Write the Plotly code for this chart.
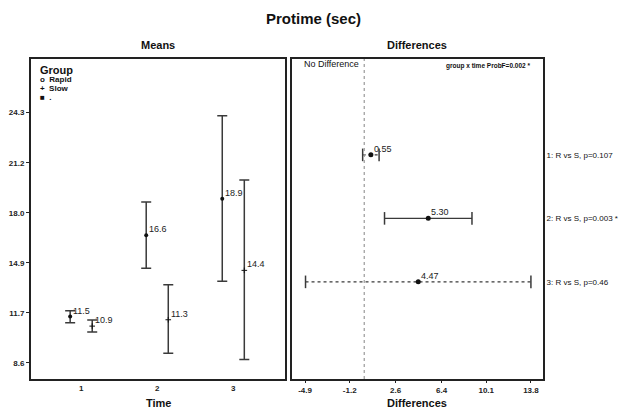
import plotly.graph_objects as go

# ---- data ----
time_points = [1, 2, 3]
rapid_mean = [11.5, 16.6, 18.9]
rapid_lo = [11.11, 14.54, 13.72]
rapid_hi = [11.87, 18.69, 24.11]
slow_mean = [10.9, 11.3, 14.4]
slow_lo = [10.53, 9.19, 8.81]
slow_hi = [11.28, 13.50, 20.07]
mean_yticks = [8.6, 11.74, 14.88, 18.02, 21.16, 24.3]
mean_yticklabels = ["8.6", "11.7", "14.9", "18.0", "21.2", "24.3"]

diff_rows = [1, 2, 3]
diff_est = [0.55, 5.30, 4.47]
diff_lo = [-0.13, 1.68, -4.86]
diff_hi = [1.23, 8.92, 13.80]
diff_labels = ["1: R vs S, p=0.107", "2: R vs S, p=0.003 *", "3: R vs S, p=0.46"]
diff_dash = ["dot", "solid", "dot"]
diff_xticks = [-4.9, -1.2, 2.6, 6.4, 10.1, 13.8]

W, H = 626, 410
FONT = "Liberation Sans, Arial, sans-serif"
LC = "#3a3a3a"

fig = go.Figure()

off = 0.145
xr = [t - off for t in time_points]
xs = [t + off for t in time_points]

annotations = []

fig.add_trace(go.Scatter(
    x=xr, y=rapid_mean, mode="markers", name="Rapid",
    marker=dict(symbol="circle", size=4, color="#111"),
    error_y=dict(type="data", symmetric=False,
                 array=[h - m for h, m in zip(rapid_hi, rapid_mean)],
                 arrayminus=[m - l for m, l in zip(rapid_mean, rapid_lo)],
                 color=LC, thickness=1.5, width=5),
    xaxis="x", yaxis="y", showlegend=False))
fig.add_trace(go.Scatter(
    x=xs, y=slow_mean, mode="markers", name="Slow",
    marker=dict(symbol="cross-thin", size=4, color="#111", line=dict(width=1, color="#111")),
    error_y=dict(type="data", symmetric=False,
                 array=[h - m for h, m in zip(slow_hi, slow_mean)],
                 arrayminus=[m - l for m, l in zip(slow_mean, slow_lo)],
                 color=LC, thickness=1.5, width=5),
    xaxis="x", yaxis="y", showlegend=False))

for xx, yy in list(zip(xr, rapid_mean)) + list(zip(xs, slow_mean)):
    annotations.append(dict(text=f"{yy:.1f}", x=xx, y=yy, xref="x", yref="y",
                            showarrow=False, xanchor="left", yanchor="middle",
                            xshift=1, yshift=6,
                            font=dict(family=FONT, size=9, color="#222")))

# differences panel
for r, e, lo, hi, d in zip(diff_rows, diff_est, diff_lo, diff_hi, diff_dash):
    fig.add_trace(go.Scatter(
        x=[lo, hi], y=[r, r], mode="lines",
        line=dict(color=LC, width=1.3, dash=d),
        xaxis="x2", yaxis="y2", showlegend=False, hoverinfo="skip"))
    fig.add_trace(go.Scatter(
        x=[lo, hi], y=[r, r], mode="markers",
        marker=dict(symbol="line-ns", size=9, line=dict(color=LC, width=1.5)),
        xaxis="x2", yaxis="y2", showlegend=False, hoverinfo="skip"))
fig.add_trace(go.Scatter(
    x=diff_est, y=diff_rows, mode="markers",
    marker=dict(symbol="circle", size=5, color="#111"),
    xaxis="x2", yaxis="y2", showlegend=False))
for e, r in zip(diff_est, diff_rows):
    annotations.append(dict(text=f"{e:.2f}", x=e, y=r, xref="x2", yref="y2",
                            showarrow=False, xanchor="left", yanchor="middle",
                            xshift=1, yshift=6,
                            font=dict(family=FONT, size=9, color="#222")))

# no-difference line
fig.add_shape(type="line", xref="x2", yref="paper", x0=0, x1=0,
              y0=1 - 379 / H, y1=1 - 59 / H,
              line=dict(color="#999", width=1.2, dash="dot"))

dom_y = [1 - 379 / H, 1 - 59 / H]
axis_common = dict(showline=True, linecolor="#222", linewidth=2, mirror=True,
                   showgrid=False, zeroline=False,
                   tickfont=dict(family=FONT, size=8, color="#222"))

fig.update_layout(
    width=W, height=H, margin=dict(l=0, r=0, t=0, b=0),
    paper_bgcolor="white", plot_bgcolor="white",
    font=dict(family=FONT, color="#111"),
    xaxis=dict(domain=[31 / W, 285 / W], range=[0.34, 3.68],
               tickvals=time_points, ticktext=[f"<b>{t}</b>" for t in time_points],
               ticks="", anchor="y", **axis_common),
    yaxis=dict(domain=dom_y, range=[7.58, 27.67], tickvals=mean_yticks,
               ticktext=[f"<b>{t}</b>" for t in mean_yticklabels],
               ticks="outside", ticklen=3,
               tickcolor="#222", anchor="x", **axis_common),
    xaxis2=dict(domain=[292 / W, 543 / W], range=[-5.98, 14.8],
                tickvals=diff_xticks, ticktext=[f"<b>{v:.1f}</b>" for v in diff_xticks],
                ticks="outside", ticklen=2, tickcolor="#222", anchor="y2", **axis_common),
    yaxis2=dict(domain=dom_y, range=[4.53, -0.51], tickvals=diff_rows,
                ticktext=diff_labels, side="right", ticks="", anchor="x2",
                showline=True, linecolor="#222", linewidth=2, mirror=True,
                showgrid=False, zeroline=False,
                tickfont=dict(family=FONT, size=8, color="#111")),
)

ann = [
    dict(text="<b>Protime (sec)</b>", x=313 / W, y=1 - 18 / H, size=15),
    dict(text="<b>Means</b>", x=158 / W, y=1 - 45 / H, size=11),
    dict(text="<b>Differences</b>", x=417 / W, y=1 - 45 / H, size=11),
    dict(text="<b>Time</b>", x=158 / W, y=1 - 403 / H, size=11),
    dict(text="<b>Differences</b>", x=417 / W, y=1 - 403 / H, size=11),
]
annotations += [dict(text=a["text"], x=a["x"], y=a["y"], xref="paper", yref="paper",
                     showarrow=False, xanchor="center", yanchor="middle",
                     font=dict(family=FONT, size=a["size"], color="#111")) for a in ann]

legend_items = [("<b>Group</b>", 70, 11), ("<b>o  Rapid</b>", 80, 8),
                ("<b>+  Slow</b>", 88.5, 8), ("<b>■  .</b>", 97, 8)]
for t, yy, s in legend_items:
    annotations.append(dict(text=t, x=38 / W, y=1 - yy / H, xref="paper", yref="paper",
                            showarrow=False, xanchor="left", yanchor="middle",
                            font=dict(family=FONT, size=s, color="#111")))

annotations.append(dict(text="No Difference", x=0, y=1 - 64 / H, xref="x2", yref="paper",
                        xshift=-3, showarrow=False, xanchor="right", yanchor="middle",
                        font=dict(family=FONT, size=9, color="#111")))
annotations.append(dict(text="<b>group x time ProbF=0.002 *</b>", x=532 / W, y=1 - 66 / H,
                        xref="paper", yref="paper", showarrow=False,
                        xanchor="right", yanchor="middle",
                        font=dict(family=FONT, size=6.5, color="#111")))
fig.update_layout(annotations=annotations)

fig.write_html("out.html", config={"displayModeBar": False},
               post_script="document.body.style.margin='0px';")
